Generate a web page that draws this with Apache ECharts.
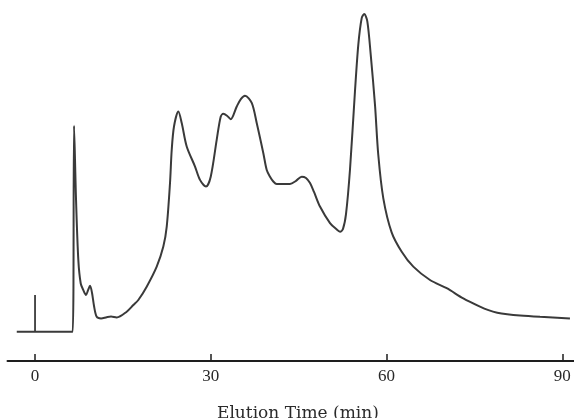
<!DOCTYPE html>
<html>
<head>
<meta charset="utf-8">
<script src="https://cdn.jsdelivr.net/npm/echarts@6/dist/echarts.min.js"></script>
<style>
  html, body { margin: 0; padding: 0; background: #fff; }
  #chart { width: 574px; height: 418px; }
</style>
</head>
<body>
<div id="chart"></div>
<script>
// Elution profile: time (min) and detector response (relative, main peak = 100)
const elutionTime = [
  -3.12, 6.43, 6.66, 7.0, 7.39, 7.8, 8.24, 8.7, 9.05, 9.39, 9.73, 10.07, 10.53,
  11.27, 12.24, 12.97, 13.94, 15.65, 16.78, 17.63, 19.06, 20.77, 21.9, 22.48,
  23.04, 23.33, 23.72, 24.46, 25.04, 25.89, 27.31, 28.16, 29.18, 29.99, 31.01,
  31.69, 32.14, 32.77, 33.4, 34.43, 35.16, 35.84, 36.99, 37.84, 38.97, 39.55,
  40.11, 40.67, 41.25, 43.52, 44.55, 45.52, 46.25, 46.94, 47.62, 48.64, 50.35,
  51.37, 52.06, 52.57, 53.08, 53.76, 54.61, 55.18, 55.76, 56.2, 56.72, 57.3,
  58.03, 58.59, 59.45, 60.87, 62.59, 64.57, 67.42, 70.27, 73.1, 75.95, 77.4,
  78.9, 80.6, 82.8, 86.19, 91.31
];
const response = [
  0, 0, 64.8, 41.5, 22.6, 15.2, 13.1, 11.6, 13.1, 14.5, 12.2, 8.1, 4.7,
  4.2, 4.6, 4.8, 4.5, 6.3, 8.4, 10.0, 14.2, 20.5, 26.8, 33.1,
  46.8, 57.2, 64.6, 69.3, 65.7, 58.3, 52.0, 47.8, 45.7, 48.8, 60.4,
  67.7, 68.6, 68.0, 66.9, 70.9, 73.3, 74.3, 72.0, 65.7, 56.2, 50.9,
  48.8, 47.3, 46.5, 46.5, 47.5, 48.8, 48.4, 46.8, 44.0, 39.4, 34.2,
  32.4, 31.5, 32.4, 37.0, 51.0, 75.6, 90.3, 98.7, 100, 97.7, 87.2,
  71.4, 55.7, 42.0, 31.3, 25.2, 20.5, 16.3, 13.7, 10.5, 7.9, 6.8,
  6.0, 5.5, 5.1, 4.7, 4.2
];
// Injection mark at t = 0
const injectTime = [0, 0];
const injectLevel = [0, 11.6];
const tickValues = [0, 30, 60, 90];

const trace = elutionTime.map((t, i) => [t, response[i]]);
const inject = injectTime.map((t, i) => [t, injectLevel[i]]);

const serif = 'Liberation Serif, DejaVu Serif, serif';
const chart = echarts.init(document.getElementById('chart'));
chart.setOption({
  animation: false,
  backgroundColor: '#ffffff',
  grid: { left: 7.5, right: 0, top: 14, bottom: 57 },
  title: {
    text: 'Elution Time (min)',
    left: 212,
    top: 400,
    textStyle: { fontFamily: 'DejaVu Serif, serif', fontSize: 17, fontWeight: 'normal', color: '#2a2a2a' }
  },
  xAxis: {
    type: 'value',
    min: -4.7,
    max: 92,
    splitLine: { show: false },
    axisLine: { onZero: false, lineStyle: { color: '#1e1e1e', width: 2 } },
    axisTick: { inside: true, length: 7, customValues: tickValues, lineStyle: { color: '#1e1e1e', width: 1.5 } },
    axisLabel: { customValues: tickValues, margin: 7, fontFamily: serif, fontSize: 17, color: '#2a2a2a' }
  },
  yAxis: {
    type: 'value',
    min: -9.2,
    max: 100,
    show: false
  },
  series: [
    {
      type: 'line',
      data: trace,
      showSymbol: false,
      smooth: 0.3,
      lineStyle: { color: '#3a3a3a', width: 2 }
    },
    {
      type: 'line',
      data: inject,
      showSymbol: false,
      lineStyle: { color: '#3a3a3a', width: 1.8 }
    }
  ]
});
</script>
</body>
</html>
